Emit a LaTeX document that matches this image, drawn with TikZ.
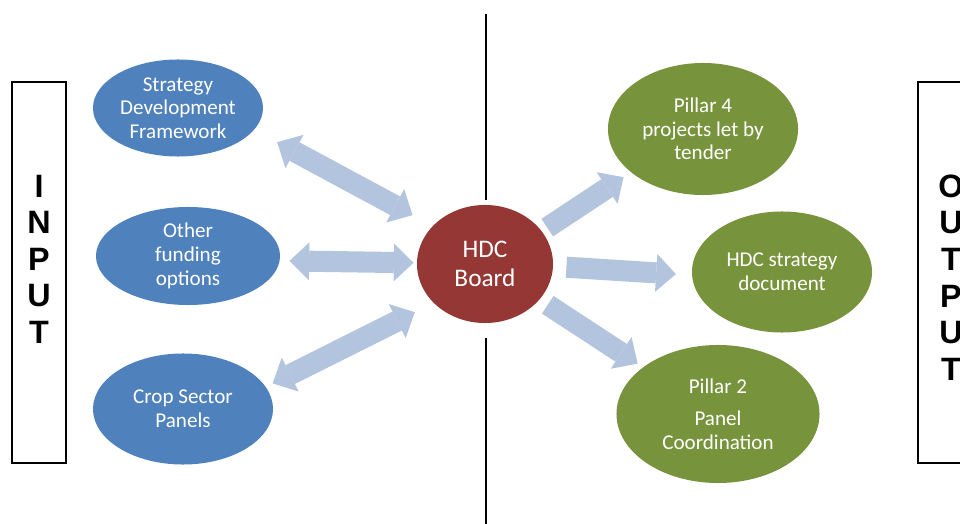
\documentclass[tikz,border=0pt]{standalone}
\usepackage{fontspec}
\setmainfont{Carlito}
\newfontfamily\letterfont{Liberation Sans}
\usetikzlibrary{arrows.meta,shapes,positioning}
\definecolor{inblue}{HTML}{4F81BD}
\definecolor{boardred}{HTML}{953735}
\definecolor{outgreen}{HTML}{77933C}
\definecolor{arrowblue}{HTML}{B3C4DF}
\tikzset{
  bubble/.style={ellipse, inner sep=0pt, text=white, align=center,
    font=\fontsize{15}{16.8}\selectfont},
  inbubble/.style={bubble, fill=inblue},
  outbubble/.style={bubble, fill=outgreen},
  board/.style={bubble, fill=boardred, font=\fontsize{18}{20.5}\selectfont},
  fat/.style={draw=arrowblue, line width=15pt,
    -{Triangle[length=14pt, width=27pt, line width=0pt]}},
  fatboth/.style={fat,
    {Triangle[length=14pt, width=27pt, line width=0pt]}-{Triangle[length=14pt, width=27pt, line width=0pt]}},
  sidebox/.style={draw, line width=1.2pt, inner sep=0pt, minimum height=9.525cm},
  sideletters/.style={align=center, font=\letterfont\bfseries\fontsize{23}{26}\selectfont},
  divider/.style={line width=1.2pt}
}

\begin{document}
\begin{tikzpicture}[x=0.025cm, y=-0.025cm]
  \useasboundingbox (0,0) rectangle (960,524);
  \clip (0,0) rectangle (960,524);

  % side frames
  \node[sidebox, minimum width=1.35cm] (inbox) at (39,272.5) {};
  \node[sideletters] (inletters) at (39,259) {I\\N\\P\\U\\T};
  \node[sidebox, minimum width=1.65cm] (outbox) at (951,272.5) {};
  \node[sideletters] (outletters) at (951,277.5) {O\\U\\T\\P\\U\\T};

  % centre
  \node[board, minimum width=3.4cm, minimum height=2.95cm] (hdc) at (485,264) {HDC\\Board};

  % inputs
  \node[inbubble, minimum width=4.25cm, minimum height=2.425cm] (sdf) at (178,108)
    {Strategy\\Development\\Framework};
  \node[inbubble, minimum width=4.6cm, minimum height=2.45cm] (ofo) at (188,256)
    {Other\\funding\\options};
  \node[inbubble, minimum width=4.5cm, minimum height=2.775cm] (csp) at (183,409)
    {Crop Sector\\Panels};

  % outputs
  \node[outbubble, minimum width=4.75cm, minimum height=3.3cm] (p4) at (703,129)
    {Pillar 4\\projects let by\\tender};
  \node[outbubble, minimum width=4.5cm, minimum height=3.025cm] (hsd) at (782,272)
    {HDC strategy\\document};
  \node[outbubble, minimum width=5.075cm, minimum height=3.45cm] (p2) at (718,414)
    {Pillar 2\\[6pt]Panel\\Coordination};

  % divider
  \coordinate (dtop) at (486,14);
  \coordinate (dbot) at (486,524);
  \draw[divider, shorten >=0.125cm] (dtop) -- (dtop |- hdc.north);
  \draw[divider, shorten <=0.375cm] (dtop |- hdc.south) -- (dbot);

  % arrows
  \draw[fatboth, shorten <=0.65cm, shorten >=0.57cm] (sdf.-16) -- (hdc.144);
  \draw[fatboth, shorten <=0.24cm, shorten >=0.08cm] (ofo.-3) -- (hdc.179);
  \draw[fatboth, shorten <=0.19cm, shorten >=0.52cm] (csp.15) -- (hdc.217);
  \draw[fat, shorten <=0.16cm, shorten >=0.22cm] (hdc.30) -- (p4.211);
  \draw[fat, shorten <=0.33cm, shorten >=0.4cm] (hdc.-2) -- (hsd.182);
  \draw[fat, shorten <=0.24cm, shorten >=0.16cm] (hdc.-33) -- (p2.148);
\end{tikzpicture}
\end{document}
